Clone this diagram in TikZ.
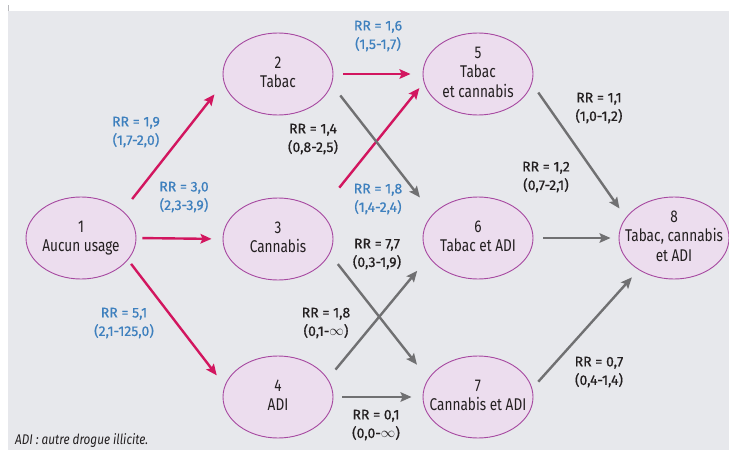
\documentclass[tikz,border=0pt]{standalone}
\usepackage{fontspec}
\setmainfont[FakeStretch=0.8]{Fira Sans}
\newfontfamily\rrfont[FakeBold=0.6]{Fira Sans}
\newfontfamily\notefont[FakeStretch=0.84]{Fira Sans}
\usepackage{tikz}
\usetikzlibrary{arrows.meta}
\usetikzlibrary{shapes}
\usetikzlibrary{positioning}
\definecolor{fondgris}{RGB}{231,232,236}
\definecolor{lilas}{RGB}{166,72,160}
\definecolor{lilasfond}{RGB}{236,221,238}
\definecolor{rosevif}{RGB}{210,22,95}
\definecolor{bleuRR}{RGB}{62,128,190}
\definecolor{grisfl}{RGB}{112,112,114}
\definecolor{noirT}{RGB}{35,31,32}
% texte centre sans elargir l'ellipse
\newcommand{\etiq}[1]{\makebox[0pt]{\begin{tabular}{@{}c@{}}#1\end{tabular}}}
\tikzstyle{etat} = [ellipse, draw=lilas, line width=0.9pt, fill=lilasfond,
    minimum width=110pt, minimum height=82pt, inner xsep=0pt, inner ysep=-2pt,
    text=noirT, font=\fontsize{17}{19.5}\selectfont]
\tikzstyle{flr} = [draw=rosevif, line width=2.4pt]
\tikzstyle{flg} = [draw=grisfl, line width=2.4pt]
\tikzstyle{rrbleu} = [text=bleuRR, align=center, inner sep=0pt,
    font=\rrfont\fontsize{14}{18.5}\selectfont]
\tikzstyle{rrnoir} = [text=noirT, align=center, inner sep=0pt,
    font=\rrfont\fontsize{14}{18.5}\selectfont]
\begin{document}
\begin{tikzpicture}[->,>={Stealth[length=11pt,width=9.5pt,inset=2pt]},
                    x=1pt,y=-1pt]
  \useasboundingbox (0,0) rectangle (729,450);
  \fill[white] (0,0) rectangle (729,450);
  \fill[fondgris] (8,11) rectangle (729,450);
  \draw[-,fondgris!80!black,line width=0.6pt] (8,5) -- (8,11);

  \node[etat] (1) at (81,238)  {\etiq{1\\Aucun usage}};
  \node[etat] (2) at (278,74)  {\etiq{2\\Tabac}};
  \node[etat] (3) at (278,239) {\etiq{3\\Cannabis}};
  \node[etat] (4) at (278,397) {\etiq{4\\ADI}};
  \node[etat] (5) at (478,74)  {\etiq{5\\Tabac\\et cannabis}};
  \node[etat] (6) at (478,238) {\etiq{6\\Tabac et ADI}};
  \node[etat] (7) at (478,397) {\etiq{7\\Cannabis et ADI}};
  \node[etat] (8) at (674,238) {\etiq{8\\Tabac, cannabis\\et ADI}};

  \path (1.33)  edge[flr, shorten <=15pt, shorten >=15pt] (2.189)
  (1.east)      edge[flr, shorten <=6pt, shorten >=11pt] (3.west)
  (1.335)       edge[flr, shorten <=5pt, shorten >=13pt] (4.168)
  (2.east)      edge[flr, shorten <=10pt, shorten >=12pt] (5.west)
  (3.33)        edge[flr, shorten <=31pt, shorten >=7pt] (5.189)
  (2.349)       edge[flg, shorten <=14pt, shorten >=21pt] (6.152)
  (3.344)       edge[flg, shorten <=13pt, shorten >=18pt] (7.160)
  (4.20)        edge[flg, shorten <=12pt, shorten >=18pt] (6.201)
  (4.east)      edge[flg, shorten <=9pt, shorten >=11pt] (7.west)
  (5.350)       edge[flg, shorten <=11pt, shorten >=11pt] (8.157)
  (6.east)      edge[flg, shorten <=10pt, shorten >=8pt] (8.west)
  (7.9)         edge[flg, shorten <=9pt, shorten >=10pt] (8.222);

  \node[rrbleu] (rr12) at (136,132) {RR = 1,9\\(1,7-2,0)};
  \node[rrbleu] (rr13) at (184,197) {RR = 3,0\\(2,3-3,9)};
  \node[rrbleu] (rr14) at (124,323) {RR = 5,1\\(2,1-125,0)};
  \node[rrbleu] (rr25) at (378,36)  {RR = 1,6\\(1,5-1,7)};
  \node[rrbleu] (rr35) at (378,199) {RR = 1,8\\(1,4-2,4)};
  \node[rrnoir] (rr26) at (313,139) {RR = 1,4\\(0,8-2,5)};
  \node[rrnoir] (rr37) at (377,254) {RR = 7,7\\(0,3-1,9)};
  \node[rrnoir] (rr46) at (326,323) {RR = 1,8\\(0,1-$\infty$)};
  \node[rrnoir] (rr47) at (376,425) {RR = 0,1\\(0,0-$\infty$)};
  \node[rrnoir] (rr58) at (599,108) {RR = 1,1\\(1,0-1,2)};
  \node[rrnoir] (rr68) at (546,177) {RR = 1,2\\(0,7-2,1)};
  \node[rrnoir] (rr78) at (599,372) {RR = 0,7\\(0,4-1,4)};

  \node[anchor=base west, inner sep=0pt, text=noirT,
        font=\notefont\itshape\fontsize{14}{15}\selectfont] (note) at (15,444)
        {ADI : autre drogue illicite.};
\end{tikzpicture}
\end{document}
